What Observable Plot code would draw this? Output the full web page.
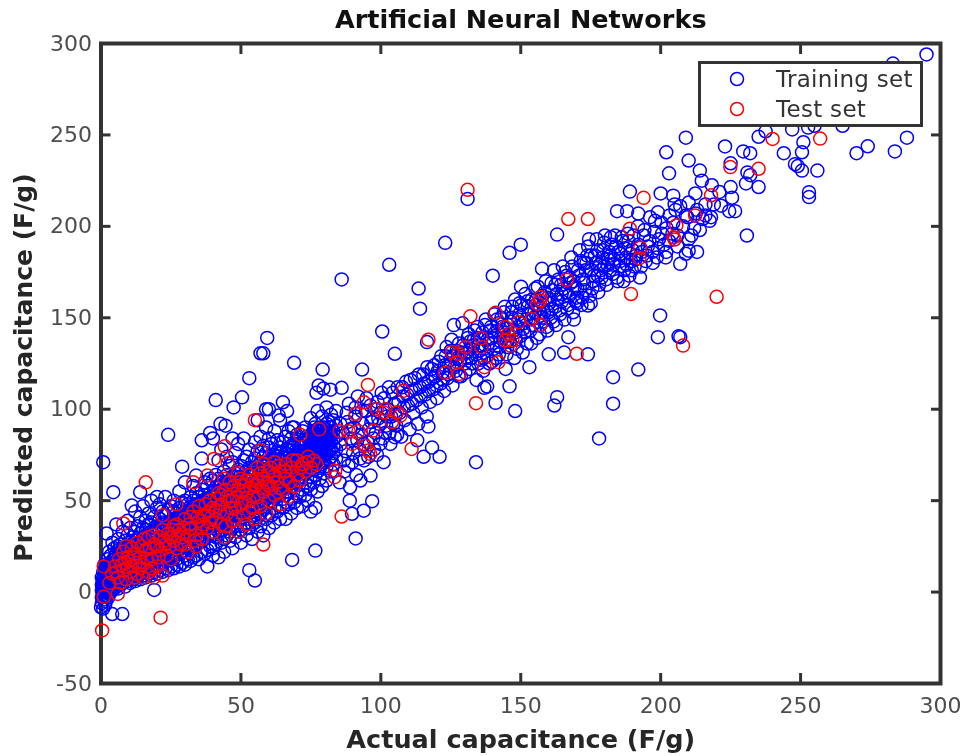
<!DOCTYPE html>
<html><head><meta charset="utf-8">
<script src="https://cdn.jsdelivr.net/npm/d3@7"></script>
<script src="https://cdn.jsdelivr.net/npm/@observablehq/plot@0.6"></script>
<style>
html,body{margin:0;padding:0;background:#fff}
#stage{position:relative;width:964px;height:756px;overflow:hidden;filter:blur(.55px)}
#legend{position:absolute;left:698px;top:61px;width:219px;height:60px;border:3.5px solid #333;background:#fff;font:23px "DejaVu Sans",sans-serif;color:#333}
#legend .row{position:absolute;left:0;height:28px}
#legend svg{position:absolute;left:27px;top:5px}
#legend span{position:absolute;left:75px;top:1px;white-space:nowrap;letter-spacing:.3px}
</style></head>
<body><div id="stage"><div id="chart"></div>
<div id="legend">
<div class="row" style="top:1px"><svg width="18" height="18"><circle cx="9" cy="9" r="6.5" fill="none" stroke="#00f" stroke-width="1.5"/></svg><span>Training set</span></div>
<div class="row" style="top:31px"><svg width="18" height="18"><circle cx="9" cy="9" r="6.5" fill="none" stroke="#f00" stroke-width="1.5"/></svg><span>Test set</span></div>
</div></div>
<script>
const chartTitle = "Artificial Neural Networks";
const xLabel = "Actual capacitance (F/g)";
const yLabel = "Predicted capacitance (F/g)";
const xTicks = [0,50,100,150,200,250,300];
const yTicks = [-50,0,50,100,150,200,250,300];

// Dense lower band: actual value, then the predicted values seen around it
const trainingBandLow = [
[0.3,[-6,-3,1,4,8]],[0.8,[-9,-2,0,3,6,11]],[1.2,[-4,1,2,5,9,15]],[1.7,[-5,0,3,6,10,13]],[2.3,[-2,2,4,7,11,18]],
[2.9,[-1,3,5,8,12,22]],[3.5,[0,2,6,9,14,20]],[4.1,[1,4,7,10,13,17,27]],[4.8,[2,5,8,11,15,19,24]],[5.5,[3,6,9,12,16,21,37]],
[6.2,[2,7,10,13,17,23,29]],[7,[4,8,11,14,18,20,26]],[7.8,[5,9,12,15,19,24,33]],[8.6,[3,7,10,14,17,22,28]],[9.5,[6,9,13,16,20,25,31,39]],
[10.4,[5,8,12,15,18,23,27,35]],[11.3,[7,10,14,17,21,26,30]],[12.2,[6,11,13,18,22,28,33,44]],[13.1,[8,12,16,19,24,29,36]],[14,[7,10,15,20,23,27,32,41]],
[15,[9,13,17,21,25,30,35,47]],[16,[8,11,16,19,24,28,34,39]],[17,[10,14,18,22,26,31,37,43]],[18,[9,12,17,23,27,33,38,50]],[19,[11,15,20,24,29,35,41]],
[20,[10,14,19,22,27,32,36,46]],[21,[12,16,21,25,30,34,40,48]],[22,[11,15,18,24,28,33,38,44]],[23,[13,17,22,26,31,37,42,52]],[24,[12,18,23,27,32,36,45]],
[25,[14,19,24,29,33,39,47]],[26,[13,20,25,28,34,40,44,50]],[27,[15,18,23,30,35,38,43]],[28,[14,21,26,31,36,41,46,55]],[29,[16,22,27,32,37,42,49]],
[30,[15,20,28,33,38,44,50]],[31,[18,24,29,34,39,43,48]],[32,[17,23,30,35,40,45,52]],[33,[19,25,31,36,41,47,50,58]],[34,[20,26,32,37,42,46,54]],
[35,[18,27,33,38,43,48,52]],[36,[22,28,34,39,44,50,56]],[37,[21,29,35,40,45,49,53,60]],[38,[14,23,30,36,41,46,51,58]],[39,[25,32,37,43,48,54,62]],
[40,[20,24,31,37,42,47,53,61,84]],[41,[26,30,38,43,48,52,57,64]],[42,[19,33,39,44,50,55,62,72]],[43,[27,34,40,45,51,56,60,78]],[44,[22,29,36,41,46,52,58,66]],
[45,[31,37,42,47,53,59,64,74]],[46,[28,33,38,43,49,54,61,69]],[47,[24,35,39,45,50,56,63,71,84]],[48,[30,36,41,46,52,57,65,76]],[49,[33,38,43,48,54,59,67,81]],
[50,[27,34,40,45,50,55,61,69]],[51,[36,41,47,52,57,63,72,84]],[52,[31,38,43,49,54,59,66,74]],[53,[35,40,45,51,56,61,68,78]],[54,[29,37,42,48,53,58,64,71]],
[55,[38,44,50,55,60,66,73,82]],[56,[33,41,46,52,57,62,69,77,94]],[57,[36,43,48,54,59,64,71,85]],[58,[31,45,50,56,61,67,74,80]],[59,[40,47,52,57,63,69,76,90]],
[60,[35,43,49,54,60,65,71,79,84]],[61,[42,50,56,61,66,73,81]],[62,[38,46,52,58,63,68,75,88]],[63,[44,53,59,64,70,77,83]],[64,[40,48,55,60,66,72,79,94]],
[65,[46,51,57,62,68,74,82]],[66,[40,53,59,64,70,76,85]],[67,[48,55,61,66,71,78,88]],[68,[43,51,57,63,68,73,80,84]],[69,[49,58,64,69,74,81,90]],
[70,[46,54,60,66,71,76,86]],[71,[52,61,67,72,77,83]],[72,[47,56,63,69,74,79,88]],[73,[53,60,65,71,76,82,90]],[74,[50,58,66,72,77,84]],
[75,[44,56,63,69,74,79,86,95]],[76,[60,67,72,76,81,84,88]],[76.6,[46,64,70,75,79,83,87,92]],[77.4,[55,66,72,76,80,84,89,99]],[78.2,[62,68,73,77,81,85,90]],
[79,[58,70,74,78,82,86,88,96]],[79.8,[65,71,75,79,83,86,90]],[80.6,[61,69,76,80,84,87,92,101]],[81.4,[72,77,81,85,88,93]],[82.2,[66,74,78,82,86,90,97]],
[83,[70,76,80,84,88,94]],[84,[73,78,85,91,99]]
];

// Solid centre of the lower band
const trainingBandCore = [
[0.6,[2,5,7,-1]],[1.5,[7,-7,12]],[2.6,[1,9,14,-3]],[3.2,[4,11,16]],[4.4,[3,6,12,15]],[5.1,[5,10,14,18]],[5.9,[8,11,15,25]],[6.7,[6,9,16,21]],[7.4,[7,13,17,23]],[8.2,[9,13,16,20]],[9,[8,12,18,24]],[9.9,[10,15,19,22]],[10.8,[11,14,20,26]],[11.8,[9,16,19,24]],[12.7,[13,17,21,26]],[13.6,[11,15,22,25]],[14.5,[14,19,23,28]],[15.5,[12,18,22,27]],[16.5,[15,21,26,30]],[17.5,[16,20,25,29]],[18.5,[14,22,26,31]],[19.5,[17,23,27,33]],[20.5,[18,24,28,35]],[21.5,[20,26,29,37]],[22.5,[16,23,30,34]],[23.5,[21,25,29,35]],[24.5,[22,28,31,38]],[25.5,[19,27,32,36]],[26.5,[24,29,33,39]],[27.5,[26,30,34,41]],[28.5,[22,29,35,40]],[29.5,[25,31,36,43]],[30.5,[27,32,37,42]],[31.5,[26,33,38,46]],[32.5,[29,34,39,44]],[33.5,[28,35,40,48]],[34.5,[30,36,41,45]],[35.5,[31,37,42,49]],[36.5,[33,38,43,47]],[37.5,[34,39,44,51]],[38.5,[32,40,45,50]],[39.5,[36,41,46,52]],[40.5,[35,42,47,55]],[41.5,[37,44,49,54]],[42.5,[41,46,51,58]],[43.5,[38,43,48,57]],[44.5,[40,45,50,56]],[45.5,[43,48,55,60]],[46.5,[41,47,52,58]],[47.5,[44,49,54,61]],[48.5,[42,50,55,60]],[49.5,[46,51,57,63]],[50.5,[44,48,53,59]],[51.5,[45,50,56,62]],[52.5,[47,52,57,64]],[53.5,[46,53,59,63]],[54.5,[49,55,60,67]],[55.5,[47,54,58,65]],[56.5,[50,56,61,68]],[57.5,[52,58,63,66]],[58.5,[50,55,60,69]],[59.5,[53,59,64,71]],[60.5,[55,58,63,68]],[61.5,[54,60,65,72]],[62.5,[56,61,66,70]],[63.5,[55,62,67,74]],[64.5,[58,64,69,76]],[65.5,[57,63,68,73]],[66.5,[60,66,71,78]],[67.5,[59,65,70,75]],[68.5,[62,67,72,79]],[69.5,[63,68,73,77]],[70.5,[65,70,74,81]],[71.5,[63,69,75,80]],[72.5,[67,72,77,83]],[73.5,[68,73,78,85]],[74.5,[70,75,80,84]],[75.5,[72,78,83,87]],[76.2,[74,79,85,90]],[77,[71,77,82,86]],[77.8,[73,78,83,88]],[78.6,[75,80,84,89]],[79.4,[72,77,81,87]]
];

// Upper band and scattered rings, actual and predicted read one by one
const trainingUpper = [
[85.3,60],[85.7,81],[86.4,87],[87,66],[87.5,77],[88.1,93],[88.6,103],[89.3,84],[89.8,71],[90.4,90],[90.9,96],[91.2,64],[91.8,107],[92.3,78],[92.9,86],[93.4,92],[94,72],[94.6,99],[95.2,82],[95.7,89],[96.3,102],[97,95],[97.6,78],[98.2,87],[98.8,104],[99.4,92],[100,98],[100.6,84],[101.2,106],[101.9,91],[102.5,100],[103.1,87],[103.7,96],[104.2,109],[104.9,103],[105.5,91],[106,112],[106.7,98],[107.3,85],[107.9,107],[108.5,94],[109,115],[109.7,102],[110.3,89],[110.9,110],[111.6,98],[112.2,117],[112.8,105],[113.3,92],[114,112],[114.6,101],[115.2,119],[115.8,108],[116.4,96],[117,115],[117.6,104],[118.2,122],[118.9,111],[119.5,118],[120.1,106],[120.7,126],[121.3,114],[122,120],[122.6,110],[123.2,129],[123.8,117],[124.4,124],[125,132],[125.6,113],[126.1,146],[126.8,121],[127.4,128],[128,136],[128.6,118],[129.2,147],[129.9,125],[130.5,131],[131.1,139],[131.7,122],[132.3,128],[133,135],[133.6,143],[134.2,116],[134.8,125],[135.4,132],[136,139],[136.6,121],[137.2,146],[137.9,129],[138.5,136],[139.1,143],[139.7,126],[140.3,133],[140.9,140],[141.5,149],[142.2,130],[142.8,137],[143.4,145],[144,153],[144.6,122],[145.2,134],[145.8,141],[146.4,148],[147,156],[147.7,128],[148.3,138],[148.9,145],[149.5,152],[150.1,167],[150.7,131],[151.3,142],[151.9,149],[152.5,156],[153.1,123],[153.7,136],[154.3,146],[154.9,153],[155.5,160],[156.1,167],[156.8,141],[157.4,150],[158,157],[158.6,164],[159.2,145],[159.8,153],[160.4,160],[161,169],[161.7,148],[162.3,156],[162.9,163],[163.5,171],[164.1,152],[164.7,159],[165.3,166],[165.9,175],[166.6,155],[167.2,162],[167.8,169],[168.4,178],[169,149],[169.6,159],[170.2,166],[170.8,173],[171.4,181],[172,161],[172.6,169],[173.2,176],[173.8,184],[174.4,193],[175,158],[175.6,166],[176.2,173],[176.8,180],[177.4,187],[178,168],[178.6,176],[179.2,183],[179.8,191],[180.4,171],[181,179],[181.6,186],[182.2,194],[182.8,174],[183.4,182],[184,189],[184.6,170],[185.2,178],[185.8,185],[186.4,192],[187,176],[187.6,183],[188.2,196],[188.8,173],[189.4,181],[190,187],[190.7,178],[191.3,184],[191.9,200],[192.6,172],[193.3,186],[194,195],[194.7,181],[195.4,189],[196.2,205],[197,186],[197.8,197],[198.6,183],[199.4,193],[200.3,202],[201.2,190],[202.1,199],[203.2,206],[204.2,196],[205.3,209],
[86,171],[103,179],[123,191],[113.5,166],[114,155],[100.5,142.5],[105,130.3],[59.4,139],[57,130.6],[58,130.6],[69,125.4],[53,117],[50.4,106.5],[41,105],[47.4,101],[24,86],[42.7,92],[44.5,91],[36,83],[39,87],[0.8,71],[29,68.6],[30,60],[34,63.7],[36,73],[4.4,54.6],[14,54.6],[11,47.3],[20,52],[65,103.8],[59,100],[60,100],[66.5,99],[63.5,96.5],[79.2,121.7],[93.3,121.7],[77.8,113],[77,109],[79.5,111.3],[82,110.7],[86,111.7],[68.3,90],[101,71],[96.9,49.7],[93.9,44.5],[89.7,42.8],[88.9,50],[96.3,63.7],[92.7,61],[89,57.3],[91,29.3],[76.6,22.7],[68.3,17.6],[53,12],[55,6.3],[19,1.2],[7.6,-12],[4,-12],[0,-8.3],[2,32],
[131,215],[189,219],[200,218],[204.5,216.8],[184.4,208.3],[188,208.3],[192,207],[199,207.7],[163,195.5],[150,190],[146,185.5],[140,173],[157.6,176.8],[116.5,136.7],[199.8,151.3],[199,139.4],[206.4,139.9],[207,139.4],[192,121.7],[183,117.5],[183,103],[178,84],[163,106.6],[162,102],[148,99],[141,103.5],[146,112.5],[138,112.4],[137,111.7],[174,130],[165.5,131],[160,130],[167,139.4],[174,156.7],[117,90.5],[118.3,79],[113,83],[105,84.7],[134,71],[121,74],[115.3,74],[207,179.5],[210,186.7],[209,185],
[295,294],[283,289],[209,248.5],[202,240.5],[210,236],[203,229],[223,243.7],[229.5,241],[232,240],[235,249],[237.5,252],[247,253],[251,246],[250.5,240.5],[244,240],[248,234],[249,233],[250.5,230.5],[256,230.5],[253,218.7],[253,216],[270,240],[274,243.8],[283.7,241],[288,248.5],[265,255],[252.7,254],[255,255],[230.8,195],[235,221.5],[230.5,223.5],[232,228],[231,229.5],[225,221.5],[225.5,215.7],[221.6,211.3],[224.5,208.3],[226.6,208.3],[225,234.5],[214,230.5],[214.7,225],[218.3,222.5],[221,218.8],[212.4,218],[207,211],[210,213],[213,209],[216,206],[209,206],[205,212],[218,205],[219,212],[212,199],[215,204],[213,186],[206,195],[210,193],[202,186]
];

// Thicker rings along the band above 100
const trainingUpperDense = [
[105.2,97],[106.3,104],[107.7,112],[108.2,101],[109.4,108],[110.6,116],[111.2,103],[112.4,111],[113.6,119],[114.3,107],[115.4,114],[116.6,123],[117.2,110],[118.5,117],[119.1,124],[119.9,113],[120.4,121],[121.6,129],[122.2,116],[122.9,124],[123.5,134],[124.2,119],[124.9,127],[125.3,138],[126.4,123],[127.1,132],[127.8,118],[128.3,127],[129.5,135],[130.2,120],[130.9,128],[131.4,141],[132,133],[132.7,125],[133.3,138],[134,130],[134.5,145],[135.1,135],[135.8,127],[136.3,142],[137,133],[137.5,149],[138.2,138],[138.8,125],[139.4,145],[140,136],[140.6,152],[141.2,128],[141.8,143],[142.5,134],[143.1,150],[143.7,139],[144.3,156],[144.9,130],[145.5,146],[146.1,137],[146.7,153],[147.4,143],[148,160],[148.6,133],[149.2,149],[149.8,140],[150.4,157],[151,147],[151.6,163],[152.2,136],[152.8,152],[153.4,143],[154,160],[154.6,150],[155.2,166],[155.8,139],[156.4,155],[157,146],[157.7,162],[158.3,153],[158.9,170],[159.5,143],[160.1,158],[160.7,150],[161.3,165],[161.9,176],[162.6,146],[163.2,160],[163.8,154],[164.4,168],[165,178],[165.6,149],[166.2,164],[166.9,157],[167.5,172],[168.1,183],[168.7,153],[169.3,167],[169.9,161],[170.5,176],[171.1,187],[171.7,157],[172.3,171],[172.9,165],[173.5,180],[174.1,189],[174.7,162],[175.3,176],[175.9,170],[176.5,184],[177.1,193],[177.7,164],[178.3,179],[178.9,172],[179.5,187],[180.1,195],[180.7,168],[181.3,182],[181.9,176],[182.5,190],[183.1,179],[183.7,195],[184.3,172],[184.9,186],[185.5,181],[186.1,194],[186.7,170],[187.3,188],[187.9,179],[188.5,192],[189.1,185],[189.7,176],[190.3,195],[191,182],[192,190],[193,178],[194.2,198],[195,184],[196,192],[197.2,180],[198,203],[199,188],[200.5,196],[201.8,183],[203,192],[204.5,202],[206,189],[208,200],[209.5,205],[211,195],[212.5,207],[214,198],[216,212],[217.5,203],
[85.5,92],[86.8,72],[87.8,98],[88.4,69],[89.1,89],[90.1,76],[91,101],[91.6,83],[92.6,73],[93.2,99],[93.9,81],[94.9,106],[95.5,74],[96.6,93],[97.3,84],[98,100],[98.6,75],[99.1,95],[99.8,81],[100.3,109],[101.5,87],[102.2,96],[102.9,112],[103.4,81],[104.5,92],[105.8,86],[125.7,129],[128.9,131],[131.9,137],[134.6,139],[136.9,128],[139.6,139],[142,147],[143.9,142],[145.1,137],[146.9,150],[148.1,142],[149.6,158],[150.9,144],[152.4,159],[153.9,149],[155.4,157],[156.6,151],[158.1,148],[159.7,161],[161.1,155],[162.4,168],[164.6,163],[166.4,173],[168.9,170],[170.1,158],[172.7,180],[175.1,184],[177.6,173],[179.9,178],[182.1,184]
];

const testSet = [
[131,220],[220,161.5],[189.4,163],[208,134.8],[134,103.3],[86,41.3],[58,26],[16,60],[8,37.5],[55,94],[44.2,79.7],[40.3,72.8],[45.3,70.4],[38,63.7],[57,77.4],[71.2,86],[78,89],[95.4,113.3],[108,110],[111,78.3],[83.7,66.4],[83.5,62.8],[94,103.8],[91,97.5],[85.3,88],[88.5,88],[92,88],[97.4,88.3],[89.7,81],[94.5,80],[95.6,77.4],[96.2,75.6],[98.6,100],[101.6,100],[101,98.3],[104,93],[105.8,98.3],[107,96.5],
[193.9,215.6],[167,204],[174,204],[189,198.7],[205.6,200.5],[212.3,206],[205,192.8],[192.7,188.3],[192.4,182.6],[166.5,170.8],[157,161.3],[157,159.5],[156,157.7],[141,152.7],[132,150.8],[144.5,144.9],[149.2,147.6],[154,149.4],[157,146],[145.6,141.2],[144.5,137.6],[147,137.6],[146.3,134.8],[135.9,138.9],[136,133.9],[130.2,133.9],[125.4,131.2],[127.8,130.3],[127.2,125.7],[123,119.9],[128,119.3],[137,123],[142,125.7],[117,138],[170,130.3],
[240,247.8],[257,248],[224.9,232.4],[235,231.5],[218,217],[204.6,194],
[0.4,-21],[21.3,-14],[1,14],[1,-2.5],[3,5],[6,-1],[4,10],[5,14],[6,8],[7,5],[8,12],[8,22],[9,7],[10,17],[11,14],[11,24],[12,21],[13,10],[13,27],[14,19],[15,15],[15,8],[16,23],[17,11],[17,30],[18,18],[19,8],[19,26],[20,14],[21,30],[21,23],[22,9],[23,26],[24,32],[25,18],[26,36],[26,28],[27,24],[28,34],[29,30],[30,40],[30,26],[31,22],[32,35],[33,44],[34,31],[35,39],[35,47],[36,29],[37,42],[38,35],[39,50],[40,46],[40,33],[41,40],[42,54],[43,37],[43,48],[44,30],[45,52],[45,43],[46,60],[47,39],[47,50],[48,46],[49,56],[49,33],[50,48],[50,62],[51,42],[52,54],[52,37],[53,50],[53,64],[54,46],[55,58],[55,40],[56,68],[56,52],[57,47],[58,62],[58,55],[59,43],[60,66],[60,50],[61,57],[62,71],[62,53],[63,60],[64,48],[64,66],[65,56],[66,70],[66,62],[67,52],[68,68],[69,58],[70,72],[70,64],[71,61],[72,70],[73,66],[74,74],[75,68],[76,72],[77,70],[33,60],[27,48],[22,42],
[5.5,11],[7.5,15],[9.5,19],[10.5,11],[12.5,16],[14.5,25],[16.5,18],[18.5,31],[20.5,19],[22.5,28],[24.5,25],[25.5,34],[27.5,31],[29.5,35],[31.5,37],[33.5,28],[34.5,41],[36.5,37],[38.5,44],[39.5,41],[41.5,51],[42.5,44],[44.5,56],[46.5,46],[48.5,52],[50.5,55],[51.5,49],[53.5,57],[54.5,52],[55.5,62],[57.5,57],[59.5,60],[60.5,68],[61.5,63],[63.5,69],[65.5,66],[67.5,60],[68.5,72],[71.5,68],[73.5,71],[47.5,58],[44,62],[49,65],[52,61],[56,60],[58,70],[60,58],[62,64],[64,57],[66,66],
[6.5,18],[8.5,16],[9,25],[11.5,19],[12,8],[14,13],[15.5,29],[17.5,24],[18,13],[20,25],[22,34],[23.5,20],[25,30],[27,37],[28.5,26],[31,31],[32,41],[34,25],[36,35],[37.5,48],[39,38],[41,45],[43,53],[44.5,36],[46,50],[48,41],[49.5,60],[51,58],[53,44],[54,61],[57,65]
];

const columnsToPairs = cols => cols.flatMap(([a, preds]) => preds.map(p => [a, p]));
const trainingSet = columnsToPairs(trainingBandLow).concat(columnsToPairs(trainingBandCore), trainingUpper, trainingUpperDense);

const chart = Plot.plot({
  width: 964, height: 756,
  marginLeft: 100.5, marginRight: 24, marginTop: 43, marginBottom: 73,
  x: {domain: [0, 300]},
  y: {domain: [-50, 300]},
  style: {fontFamily: '"DejaVu Sans", sans-serif', fontSize: "22px", color: "#4d4d4d", background: "#fff", overflow: "visible"},
  marks: [
    Plot.axisX({ticks: xTicks, anchor: "bottom", tickSize: -10, tickPadding: 24, strokeWidth: 3, stroke: "#333", label: null}),
    Plot.axisX({ticks: xTicks, anchor: "top", tickSize: -10, tickFormat: () => "", strokeWidth: 3, stroke: "#333", label: null}),
    Plot.axisY({ticks: yTicks, anchor: "left", tickSize: -10, tickPadding: 19, strokeWidth: 3, stroke: "#333", label: null, tickFormat: d => String(d)}),
    Plot.axisY({ticks: yTicks, anchor: "right", tickSize: -10, tickFormat: () => "", strokeWidth: 3, stroke: "#333", label: null}),
    Plot.frame({stroke: "#333", strokeWidth: 4}),
    Plot.dot(trainingSet, {x: d => d[0], y: d => d[1], r: 6.5, stroke: "#0000ff", strokeWidth: 1.5}),
    Plot.dot(testSet, {x: d => d[0], y: d => d[1], r: 6.5, stroke: "#ff0000", strokeWidth: 1.5}),
    Plot.text([chartTitle], {frameAnchor: "top", dy: -34, fontSize: 25.5, fontWeight: "bold", fill: "#111"}),
    Plot.text([xLabel], {frameAnchor: "bottom", dy: 64, fontSize: 25.5, fontWeight: "bold", fill: "#262626"}),
    Plot.text([yLabel], {frameAnchor: "left", dx: -77, dy: 4, rotate: -90, textAnchor: "middle", fontSize: 25, fontWeight: "bold", fill: "#262626"})
  ]
});
document.getElementById("chart").appendChild(chart);
</script></body></html>
